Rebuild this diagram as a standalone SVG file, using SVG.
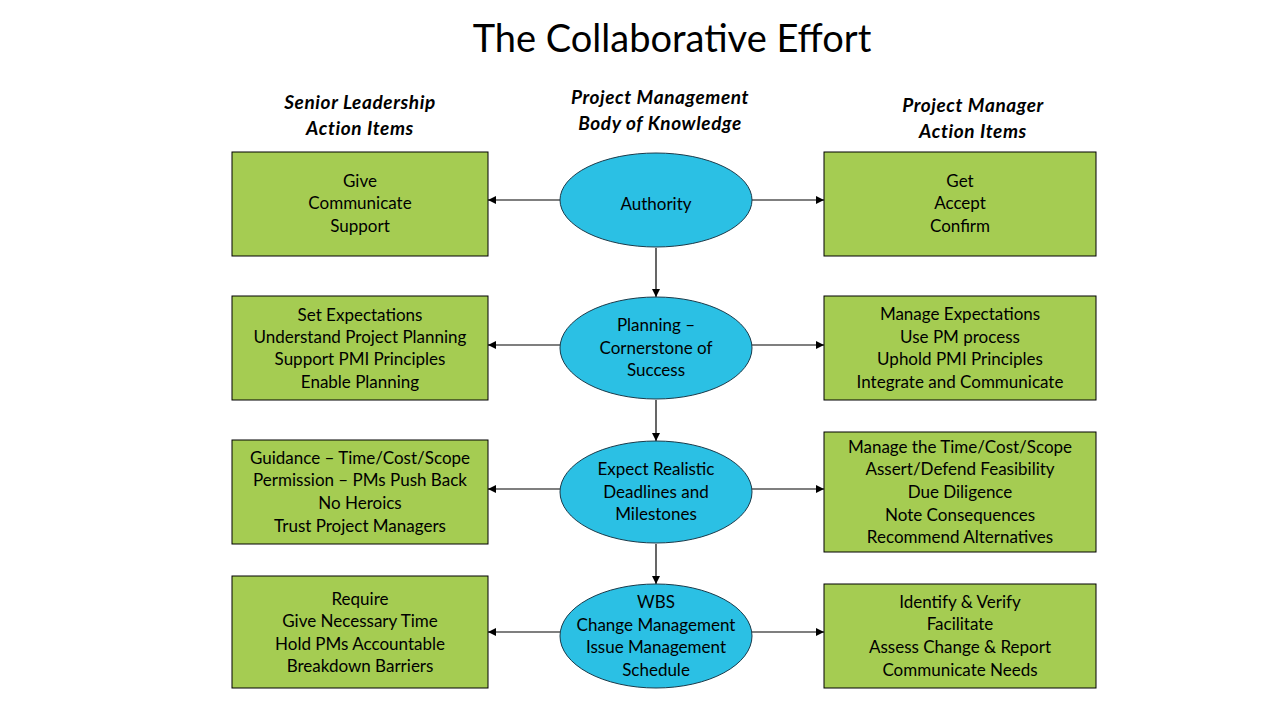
<svg xmlns="http://www.w3.org/2000/svg" width="1280" height="720" viewBox="0 0 1280 720">
<defs>
<style>
text{font-family:Lato,"Open Sans","Liberation Sans",sans-serif;fill:#000;text-anchor:middle}
.t{font-size:38px}
.h{font-size:19px;font-weight:bold;font-style:italic;letter-spacing:0.6px}
.b{font-size:17px}
.box{fill:#A5CC52;stroke:#000;stroke-width:1}
.ell{fill:#2BC0E4;stroke:#1a3a4a;stroke-width:1}
.c{stroke:#000;stroke-width:1.2;fill:none;marker-end:url(#ah)}
</style>
<marker id="ah" viewBox="0 0 10 10" refX="10" refY="5" markerWidth="8" markerHeight="8" markerUnits="userSpaceOnUse" orient="auto">
<path d="M0,0 L10,5 L0,10 z" fill="#000"/>
</marker>
</defs>
<rect width="1280" height="720" fill="#fff"/>
<text class="t" x="672" y="52">The Collaborative Effort</text>
<g id="headers">
<text class="h" x="360" y="109">Senior Leadership</text>
<text class="h" x="360" y="135">Action Items</text>
<text class="h" x="660" y="104">Project Management</text>
<text class="h" x="660" y="130">Body of Knowledge</text>
<text class="h" x="973" y="112">Project Manager</text>
<text class="h" x="973" y="138">Action Items</text>
</g>
<g id="connectors">
<line class="c" x1="560" y1="200" x2="488" y2="200"/>
<line class="c" x1="752" y1="200" x2="824" y2="200"/>
<line class="c" x1="560" y1="345" x2="488" y2="345"/>
<line class="c" x1="752" y1="345" x2="824" y2="345"/>
<line class="c" x1="560" y1="489" x2="488" y2="489"/>
<line class="c" x1="752" y1="489" x2="824" y2="489"/>
<line class="c" x1="560" y1="632" x2="488" y2="632"/>
<line class="c" x1="752" y1="632" x2="824" y2="632"/>
<line class="c" x1="656" y1="248" x2="656" y2="297"/>
<line class="c" x1="656" y1="400" x2="656" y2="441"/>
<line class="c" x1="656" y1="544" x2="656" y2="584"/>
</g>
<g id="auth">
<ellipse class="ell" cx="656" cy="200" rx="96" ry="47"/>
<text class="b" x="656" y="210">Authority</text>
</g>
<g id="plan">
<ellipse class="ell" cx="656" cy="348" rx="96" ry="51"/>
<text class="b" x="656" y="331">Planning –</text>
<text class="b" x="656" y="354">Cornerstone of</text>
<text class="b" x="656" y="376">Success</text>
</g>
<g id="expect">
<ellipse class="ell" cx="656" cy="492" rx="96" ry="51"/>
<text class="b" x="656" y="475">Expect Realistic</text>
<text class="b" x="656" y="498">Deadlines and</text>
<text class="b" x="656" y="520">Milestones</text>
</g>
<g id="wbs">
<ellipse class="ell" cx="656" cy="636" rx="96" ry="52"/>
<text class="b" x="656" y="608">WBS</text>
<text class="b" x="656" y="631">Change Management</text>
<text class="b" x="656" y="653">Issue Management</text>
<text class="b" x="656" y="676">Schedule</text>
</g>
<g id="sl1">
<rect class="box" x="232" y="152" width="256" height="104"/>
<text class="b" x="360" y="187">Give</text>
<text class="b" x="360" y="209">Communicate</text>
<text class="b" x="360" y="232">Support</text>
</g>
<g id="sl2">
<rect class="box" x="232" y="296" width="256" height="104"/>
<text class="b" x="360" y="321">Set Expectations</text>
<text class="b" x="360" y="343">Understand Project Planning</text>
<text class="b" x="360" y="365">Support PMI Principles</text>
<text class="b" x="360" y="388">Enable Planning</text>
</g>
<g id="sl3">
<rect class="box" x="232" y="440" width="256" height="104"/>
<text class="b" x="360" y="464">Guidance – Time/Cost/Scope</text>
<text class="b" x="360" y="486">Permission – PMs Push Back</text>
<text class="b" x="360" y="509">No Heroics</text>
<text class="b" x="360" y="532">Trust Project Managers</text>
</g>
<g id="sl4">
<rect class="box" x="232" y="576" width="256" height="112"/>
<text class="b" x="360" y="605">Require</text>
<text class="b" x="360" y="627">Give Necessary Time</text>
<text class="b" x="360" y="650">Hold PMs Accountable</text>
<text class="b" x="360" y="672">Breakdown Barriers</text>
</g>
<g id="pm1">
<rect class="box" x="824" y="152" width="272" height="104"/>
<text class="b" x="960" y="187">Get</text>
<text class="b" x="960" y="209">Accept</text>
<text class="b" x="960" y="232">Confirm</text>
</g>
<g id="pm2">
<rect class="box" x="824" y="296" width="272" height="104"/>
<text class="b" x="960" y="320">Manage Expectations</text>
<text class="b" x="960" y="343">Use PM process</text>
<text class="b" x="960" y="365">Uphold PMI Principles</text>
<text class="b" x="960" y="388">Integrate and Communicate</text>
</g>
<g id="pm3">
<rect class="box" x="824" y="432" width="272" height="120"/>
<text class="b" x="960" y="453">Manage the Time/Cost/Scope</text>
<text class="b" x="960" y="475">Assert/Defend Feasibility</text>
<text class="b" x="960" y="498">Due Diligence</text>
<text class="b" x="960" y="521">Note Consequences</text>
<text class="b" x="960" y="543">Recommend Alternatives</text>
</g>
<g id="pm4">
<rect class="box" x="824" y="584" width="272" height="104"/>
<text class="b" x="960" y="608">Identify &amp; Verify</text>
<text class="b" x="960" y="630">Facilitate</text>
<text class="b" x="960" y="653">Assess Change &amp; Report</text>
<text class="b" x="960" y="676">Communicate Needs</text>
</g>
</svg>
